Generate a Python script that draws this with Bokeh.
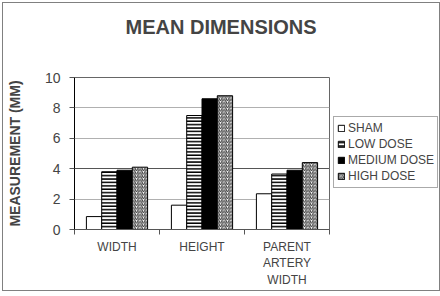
from bokeh.plotting import figure
from bokeh.layouts import row
from bokeh.models import FixedTicker, Legend, LegendItem, Range1d, Title, Grid
from bokeh.embed import file_html
from bokeh.resources import INLINE

categories = ["WIDTH", "HEIGHT", "PARENT\nARTERY\nWIDTH"]
series_names = ["SHAM", "LOW DOSE", "MEDIUM DOSE", "HIGH DOSE"]
sham = [0.85, 1.6, 2.35]
low_dose = [3.8, 7.5, 3.65]
medium_dose = [3.9, 8.6, 3.9]
high_dose = [4.1, 8.8, 4.4]
y_ticks = [0, 2, 4, 6, 8, 10]
title_text = "MEAN DIMENSIONS"

FONT = "Liberation Sans"

p = figure(width=327, height=287, output_backend="svg", toolbar_location=None,
           title=None,
           x_range=Range1d(0, len(categories)), y_range=Range1d(0, 10),
           min_border_left=68, min_border_right=1, min_border_top=74,
           min_border_bottom=61)

# spacer (closest to frame) then the real title above it
p.add_layout(Title(text=" ", text_font_size="10px", standoff=27), "above")
p.add_layout(Title(text=title_text, text_font=FONT, text_font_size="20px",
                   text_font_style="bold", align="left", offset=51,
                   standoff=0), "above")

series = [sham, low_dose, medium_dose, high_dose]
bar_w = 0.18
offsets = [-0.27, -0.09, 0.09, 0.27]
styles = [
    dict(fill_color="white"),
    dict(fill_color="white", hatch_pattern="horizontal_line", hatch_color="black",
         hatch_scale=3.4, hatch_weight=1.6),
    dict(fill_color="black"),
    dict(fill_color="white", hatch_pattern="right_diagonal_line", hatch_color="#333333",
         hatch_scale=3.5, hatch_weight=1),
]

# legend lives in a narrow side figure so it is not clipped by the plot frame
lp = figure(width=109, height=287, output_backend="svg", toolbar_location=None,
            x_range=Range1d(-2, -1), y_range=Range1d(-2, -1),
            min_border_left=0, min_border_right=0, min_border_top=0,
            min_border_bottom=0)
lp.axis.visible = False
lp.grid.visible = False
lp.outline_line_color = None

items = []
for name, vals, off, st in zip(series_names, series, offsets, styles):
    xs = [i + 0.5 + off for i in range(len(categories))]
    p.vbar(x=xs, top=vals, bottom=0, width=bar_w, line_color="black",
           line_width=1, **st)
    lr = lp.vbar(x=xs, top=vals, bottom=0, width=bar_w, line_color="black",
                 line_width=1, **st)
    items.append(LegendItem(label=name, renderers=[lr]))

legend = Legend(items=items, location=(3, 41))
legend.label_text_font = FONT
legend.label_text_font_size = "12px"
legend.glyph_width = 8
legend.glyph_height = 8
legend.label_height = 16
legend.label_standoff = 3
legend.spacing = 0
legend.padding = 3
legend.margin = 0
legend.border_line_color = "#555555"
legend.border_line_width = 1
legend.background_fill_color = "white"
legend.background_fill_alpha = 1
lp.add_layout(legend)

p.outline_line_color = "#666666"
p.xgrid.visible = False
p.ygrid.ticker = FixedTicker(ticks=y_ticks)
p.ygrid.grid_line_color = "#b0b0b0"
p.add_layout(Grid(dimension=1, ticker=FixedTicker(ticks=[y_ticks[2]]),
                  grid_line_color="#555555"))

ya = p.yaxis[0]
ya.ticker = FixedTicker(ticks=y_ticks)
ya.axis_label = "MEASUREMENT (MM)"
ya.axis_label_text_font = FONT
ya.axis_label_text_font_size = "14px"
ya.axis_label_text_font_style = "bold"
ya.axis_label_standoff = 19
ya.major_label_text_font = FONT
ya.major_label_text_font_size = "14px"
ya.major_label_standoff = 9
ya.major_tick_out = 5
ya.major_tick_in = 0
ya.minor_tick_line_color = None
ya.axis_line_color = "black"
ya.major_tick_line_color = "#555555"

xa = p.xaxis[0]
xa.ticker = FixedTicker(ticks=[i + 0.5 for i in range(len(categories))],
                        minor_ticks=list(range(len(categories) + 1)))
xa.major_label_overrides = {i + 0.5: c for i, c in enumerate(categories)}
xa.major_label_text_font = FONT
xa.major_label_text_font_size = "12px"
xa.major_label_text_line_height = 1.2
xa.major_label_standoff = 5
xa.major_tick_out = 0
xa.major_tick_in = 0
xa.minor_tick_out = 5
xa.minor_tick_in = 0
xa.minor_tick_line_color = "#555555"
xa.axis_line_color = "#555555"

layout = row(p, lp, spacing=0)
layout.styles = {"border": "1px solid #808080", "margin": "2px"}

open("out.html", "w").write(file_html(layout, INLINE))
